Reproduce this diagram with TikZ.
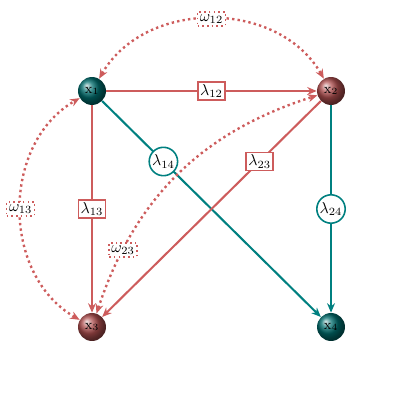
\documentclass[tikz,border=0pt]{standalone}
\usetikzlibrary{arrows.meta}
\definecolor{myred}{RGB}{205,92,92}
\definecolor{myteal}{RGB}{0,128,128}
\begin{document}
\begin{tikzpicture}[x=0.633pt,y=-0.633pt,
  ballnode/.style={circle,minimum size=17.7pt,inner sep=0pt,font=\small},
  tball/.style={ballnode,shading=ball,ball color=myteal!85!black},
  rball/.style={ballnode,shading=ball,ball color=myred!85!black},
  redline/.style={draw=myred,line width=1.3pt,-{Stealth[length=6pt,width=5pt]}},
  tealline/.style={draw=myteal,line width=1.3pt,-{Stealth[length=6pt,width=5pt]}},
  dotline/.style={draw=myred,line width=1.5pt,dotted,{Stealth[length=6pt,width=5pt]}-{Stealth[length=6pt,width=5pt]}},
  lbox/.style={draw=myred,fill=white,line width=1pt,inner sep=1.5pt,solid},
  lcirc/.style={draw=myteal,fill=white,line width=1pt,circle,inner sep=0.5pt,solid},
  wbox/.style={draw=myred,fill=white,line width=1pt,inner sep=1.5pt,dotted}]
\useasboundingbox (0,0) rectangle (420,420);
\node[tball] (x1) at (92,91) {$\mathrm{x}_1$};
\node[rball] (x2) at (331,91) {$\mathrm{x}_2$};
\node[rball] (x3) at (92,327) {$\mathrm{x}_3$};
\node[tball] (x4) at (331,327) {$\mathrm{x}_4$};
\draw[redline] (x1) -- node[lbox]{$\lambda_{12}$} (x2);
\draw[redline] (x1) -- node[lbox]{$\lambda_{13}$} (x3);
\draw[tealline] (x1) -- node[pos=0.28,lcirc]{$\lambda_{14}$} (x4);
\draw[redline] (x2) -- node[pos=0.28,lbox]{$\lambda_{23}$} (x3);
\draw[tealline] (x2) -- node[lcirc]{$\lambda_{24}$} (x4);
\draw[dotline] (x1) to[bend left=60,looseness=1.05] node[wbox]{$\omega_{12}$} (x2);
\draw[dotline] (x3) to[bend left=60,looseness=1.05] node[wbox]{$\omega_{13}$} (x1);
\draw[dotline] (x3) to[bend left=27] node[pos=0.2,wbox]{$\omega_{23}$} (x2);
\end{tikzpicture}
\end{document}
